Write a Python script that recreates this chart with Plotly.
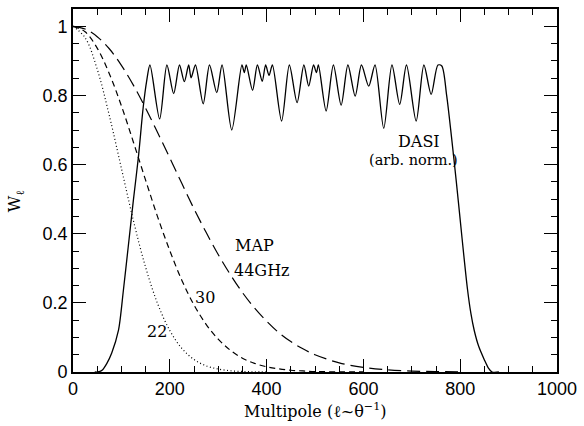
import plotly.graph_objects as go

# Multipole grids for MAP beam window functions
ell_22 = [0, 25, 50, 75, 100, 125, 150, 175, 200, 225, 250, 275, 300, 325, 350, 375, 400]
w_22 = [1.0, 0.967, 0.876, 0.742, 0.589, 0.437, 0.303, 0.197, 0.120, 0.068, 0.036,
        0.018, 0.0085, 0.0037, 0.0015, 0.0006, 0.0002]
ell_30 = [0, 25, 50, 75, 100, 125, 150, 175, 200, 225, 250, 275, 300, 325, 350,
          375, 400, 425, 450, 475, 500, 550, 600]
w_30 = [1.0, 0.984, 0.937, 0.863, 0.770, 0.664, 0.555, 0.448, 0.351, 0.265, 0.194,
        0.138, 0.095, 0.063, 0.040, 0.025, 0.015, 0.009, 0.005, 0.003, 0.0014,
        0.0004, 0.0001]
ell_44 = [0, 25, 50, 75, 100, 125, 150, 175, 200, 225, 250, 275, 300, 325, 350,
          375, 400, 425, 450, 475, 500, 550, 600, 650, 700, 750, 800]
w_44 = [1.0, 0.992, 0.970, 0.935, 0.887, 0.829, 0.763, 0.692, 0.619, 0.545, 0.472,
        0.404, 0.340, 0.282, 0.230, 0.185, 0.147, 0.114, 0.088, 0.067, 0.050,
        0.0265, 0.0133, 0.0063, 0.0028, 0.0012, 0.0005]

# DASI window (arbitrary normalisation)
ell_dasi = [45, 51, 60, 70, 80, 94, 104, 114, 125, 135, 145, 152, 159,
            179, 194, 208, 220, 230, 239, 244, 253, 269, 282, 297, 308, 328,
            349, 354, 358, 371, 381, 391, 398, 405, 412, 431, 447, 463, 477,
            487, 497, 503, 507, 523, 538, 554, 568, 583, 596, 611, 624, 642,
            659, 675, 689, 709, 725, 740, 754, 762, 772, 782, 792, 800, 808,
            815, 822, 829, 838, 850, 858, 866, 880]
w_dasi = [0.0, 0.0, 0.005, 0.025, 0.055, 0.121, 0.235, 0.361, 0.50, 0.62, 0.765, 0.84, 0.888,
          0.732, 0.888, 0.805, 0.888, 0.840, 0.888, 0.851, 0.888, 0.776, 0.888, 0.808, 0.888, 0.700,
          0.888, 0.866, 0.888, 0.815, 0.888, 0.841, 0.888, 0.858, 0.888, 0.726, 0.888, 0.779, 0.888,
          0.827, 0.888, 0.866, 0.888, 0.755, 0.888, 0.772, 0.888, 0.798, 0.888, 0.827, 0.888, 0.705,
          0.888, 0.774, 0.888, 0.726, 0.888, 0.803, 0.888, 0.885, 0.80, 0.68, 0.55, 0.44, 0.33,
          0.24, 0.17, 0.12, 0.075, 0.035, 0.012, 0.0, 0.0]

x_ticks = [0, 200, 400, 600, 800, 1000]
y_ticks = [0, 0.2, 0.4, 0.6, 0.8, 1]
y_tick_labels = ["0", "0.2", "0.4", "0.6", "0.8", "1"]

serif = "DejaVu Serif"
sans = "Liberation Sans"

fig = go.Figure()
fig.add_trace(go.Scatter(x=ell_22, y=w_22, mode="lines",
                         line=dict(color="black", width=1.2, dash="1px,2.5px", shape="spline")))
fig.add_trace(go.Scatter(x=ell_30, y=w_30, mode="lines",
                         line=dict(color="black", width=1.2, dash="6px,4px", shape="spline")))
fig.add_trace(go.Scatter(x=ell_44, y=w_44, mode="lines",
                         line=dict(color="black", width=1.2, dash="13px,6px", shape="spline")))
fig.add_trace(go.Scatter(x=ell_dasi, y=w_dasi, mode="lines",
                         line=dict(color="black", width=1.3, shape="spline", smoothing=0.8)))

ann = dict(showarrow=False, font=dict(family=serif, size=16, color="black"))
fig.add_annotation(x=715, y=0.666, text="DASI", xanchor="center", yanchor="middle", **ann)
fig.add_annotation(x=703, y=0.612, text="(arb. norm.)", xanchor="center", yanchor="middle",
                   showarrow=False, font=dict(family=serif, size=14.5, color="black"))
fig.add_annotation(x=331, y=0.366, text="MAP", xanchor="left", yanchor="middle", **ann)
fig.add_annotation(x=329, y=0.295, text="44GHz", xanchor="left", yanchor="middle", **ann)
fig.add_annotation(x=272, y=0.216, text="30", xanchor="center", yanchor="middle", **ann)
fig.add_annotation(x=173, y=0.118, text="22", xanchor="center", yanchor="middle", **ann)

fig.add_annotation(x=0.5, y=-0.105, xref="paper", yref="paper", text="Multipole (ℓ~θ<sup>−1</sup>)",
                   xanchor="center", yanchor="middle", showarrow=False,
                   font=dict(family=serif, size=16, color="black"))
fig.add_annotation(x=-0.118, y=0.47, xref="paper", yref="paper", text="W<sub>ℓ</sub>", textangle=-90,
                   xanchor="center", yanchor="middle", showarrow=False,
                   font=dict(family=serif, size=16, color="black"))

axis_common = dict(showgrid=False, zeroline=False, showline=True, linecolor="black", linewidth=1.6,
                   ticks="inside", ticklen=13, tickwidth=1.2, tickcolor="black", mirror="allticks",
                   tickfont=dict(family=sans, size=18, color="black"))
fig.update_xaxes(range=[0, 1000], tickvals=x_ticks, ticktext=[str(v) for v in x_ticks],
                 minor=dict(ticks="inside", ticklen=6.5, dtick=50, tickwidth=1.2, tickcolor="black"),
                 **axis_common)
fig.update_yaxes(range=[0, 1.05], tickvals=y_ticks, ticktext=y_tick_labels,
                 minor=dict(ticks="inside", ticklen=6.5, dtick=0.05, tickwidth=1.2, tickcolor="black"),
                 **axis_common)

fig.update_layout(width=584, height=426, margin=dict(l=73, r=24, t=7, b=54),
                  plot_bgcolor="white", paper_bgcolor="white", showlegend=False)
fig.write_html("out.html", config={"displayModeBar": False},
               post_script="document.body.style.margin='0';document.body.style.padding='0';")
